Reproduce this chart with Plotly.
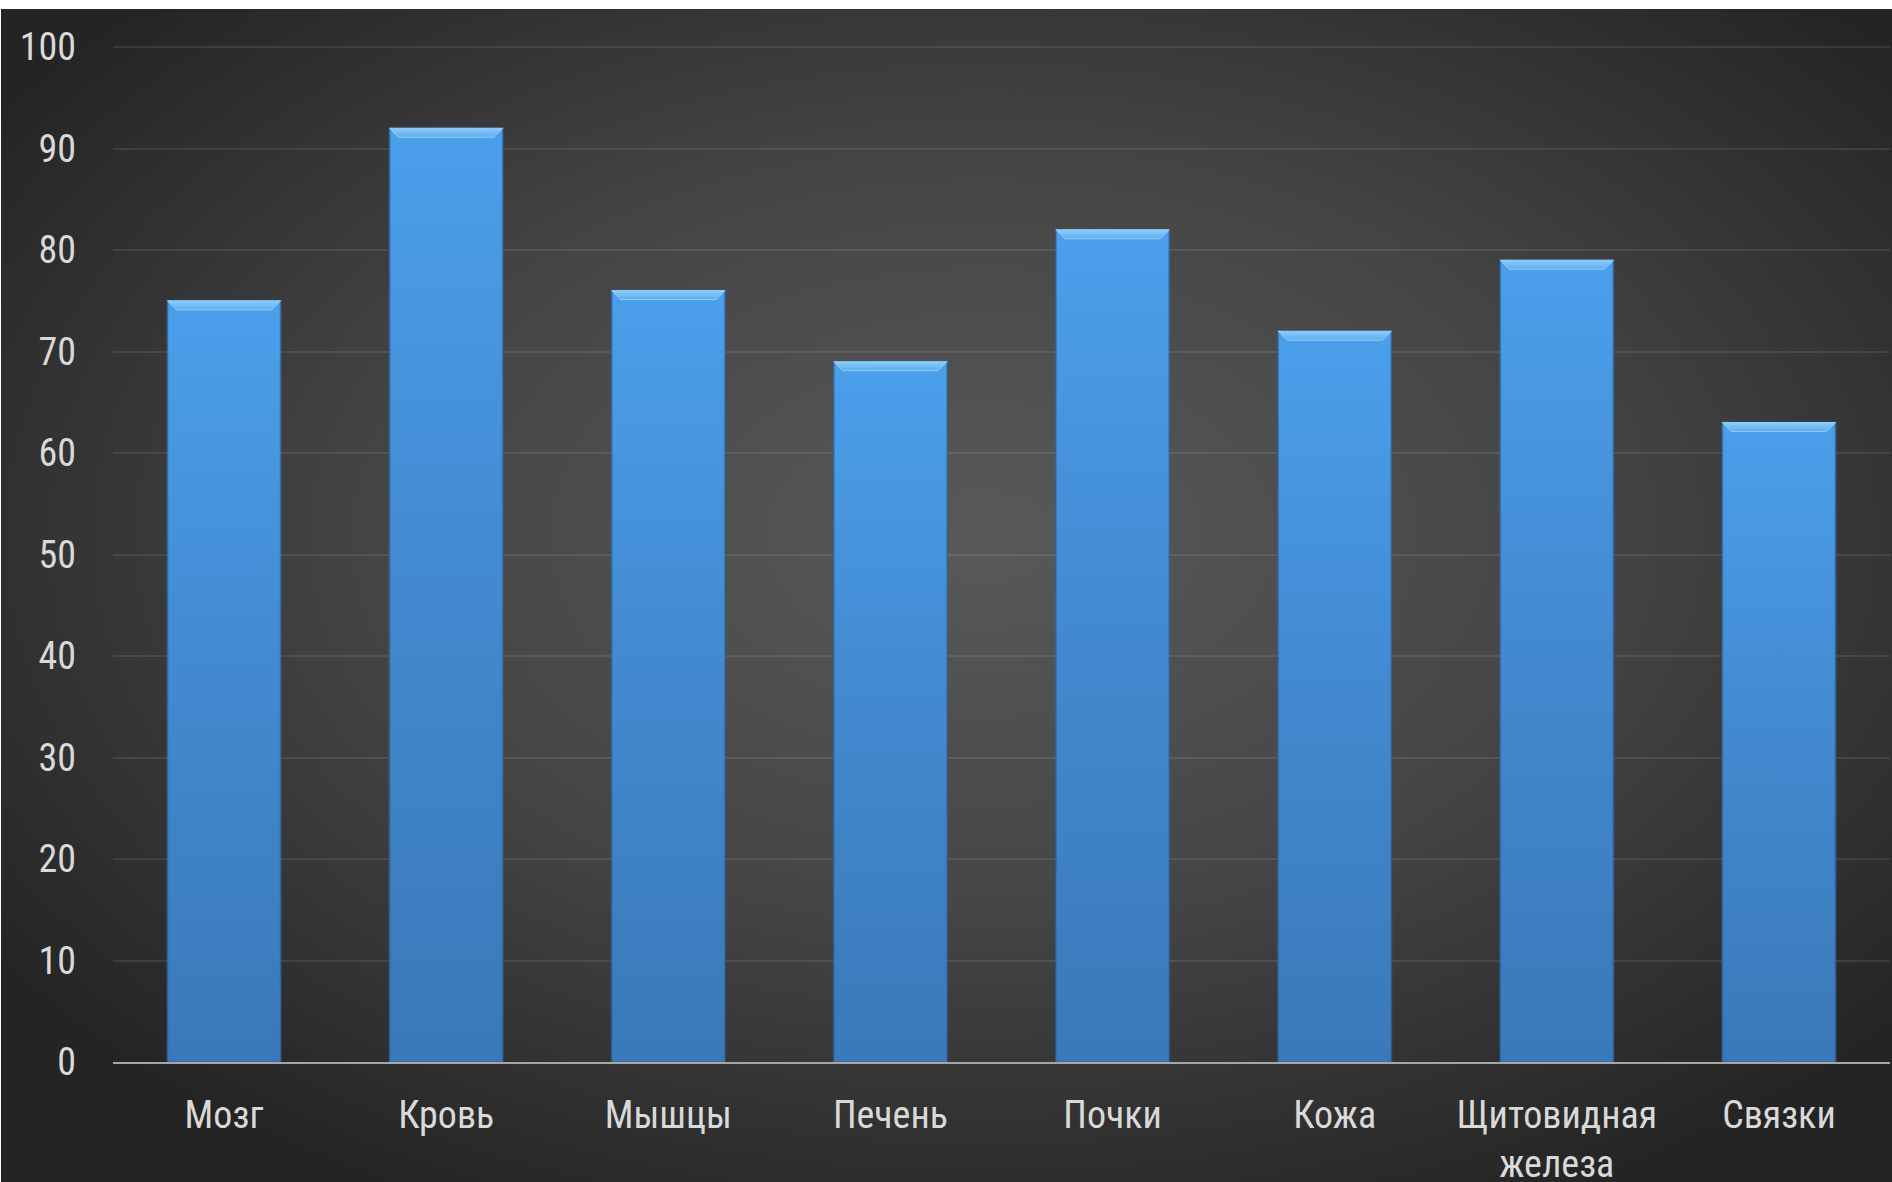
import base64
import plotly.graph_objects as go

# Organ categories and their values
categories = ["Мозг", "Кровь", "Мышцы", "Печень", "Почки", "Кожа", "Щитовидная<br>железа", "Связки"]
values = [75, 92, 76, 69, 82, 72, 79, 63]
y_ticks = [0, 10, 20, 30, 40, 50, 60, 70, 80, 90, 100]

W, H = 1892, 1182
ML, MR, MT, MB = 113, 2, 45, 120
PW, PH = W - ML - MR, H - MT - MB
Y_MAX = 100.2

FONT = "Liberation Sans Narrow, Arial Narrow, Roboto Condensed, sans-serif"
TEXT = "#d9d9d9"

half = 0.255          # half bar width in category units
bevel_px = 9          # height of the lighter top bevel in pixels
bevel_dy = bevel_px * Y_MAX / PH
bevel_dx = bevel_px * len(categories) / PW

fig = go.Figure()

for i, v in enumerate(values):
    # bar body with vertical gradient
    fig.add_trace(go.Scatter(
        x=[i - half, i + half, i + half, i - half, i - half],
        y=[0, 0, v, v, 0],
        mode="lines",
        fill="toself",
        line=dict(color="rgba(45,100,160,0.55)", width=2),
        fillgradient=dict(
            type="vertical",
            colorscale=[[0, "#3a79b9"], [0.5, "#4289cf"], [1, "#4b9feb"]],
            start=0, stop=v,
        ),
        hoverinfo="skip",
        showlegend=False,
    ))
    # lighter top bevel
    fig.add_trace(go.Scatter(
        x=[i - half, i + half, i + half - bevel_dx, i - half + bevel_dx, i - half],
        y=[v, v, v - bevel_dy, v - bevel_dy, v],
        mode="lines",
        fill="toself",
        line=dict(color="rgba(150,212,252,0.9)", width=1),
        fillgradient=dict(
            type="vertical",
            colorscale=[[0, "#5eacee"], [1, "#8ccdf9"]],
            start=v - bevel_dy, stop=v,
        ),
        hoverinfo="skip",
        showlegend=False,
    ))

# radial background gradient
svg = (
    f'<svg xmlns="http://www.w3.org/2000/svg" width="{W-1}" height="{H-9}" '
    f'viewBox="0 0 {W-1} {H-9}" preserveAspectRatio="none">'
    '<defs><radialGradient id="g" cx="52%" cy="45%" r="64%">'
    '<stop offset="0" stop-color="#595959"/>'
    '<stop offset="0.5" stop-color="#454545"/>'
    '<stop offset="1" stop-color="#242424"/>'
    '</radialGradient></defs>'
    f'<rect width="{W-1}" height="{H-9}" fill="url(#g)"/></svg>'
)
bg_uri = "data:image/svg+xml;base64," + base64.b64encode(svg.encode()).decode()

fig.update_layout(
    template="none",
    width=W, height=H,
    margin=dict(l=ML, r=MR, t=MT, b=MB, pad=0, autoexpand=False),
    paper_bgcolor="white",
    plot_bgcolor="rgba(0,0,0,0)",
    images=[dict(
        source=bg_uri, xref="paper", yref="paper",
        x=(1 - ML) / PW, y=(H - MB - 9) / PH,
        sizex=(W - 1) / PW, sizey=(H - 9) / PH,
        xanchor="left", yanchor="top", sizing="stretch", layer="below",
    )],
    xaxis=dict(
        range=[-0.5, len(categories) - 0.5],
        tickmode="array",
        tickvals=list(range(len(categories))),
        ticktext=categories,
        showgrid=False, zeroline=False, automargin=False,
        showline=True, linecolor="#a6a6a6", linewidth=2,
        ticks="", ticklabelstandoff=18,
        tickfont=dict(family=FONT, size=38, color=TEXT),
        fixedrange=True,
    ),
    yaxis=dict(
        range=[0, Y_MAX],
        tickmode="array", tickvals=y_ticks,
        showgrid=True, gridcolor="rgba(255,255,255,0.09)", gridwidth=2,
        zeroline=False, showline=False, automargin=False,
        ticks="", ticklabelstandoff=36,
        tickfont=dict(family=FONT, size=38, color=TEXT),
        fixedrange=True,
    ),
    hovermode=False,
)

fig.write_html("out.html")
